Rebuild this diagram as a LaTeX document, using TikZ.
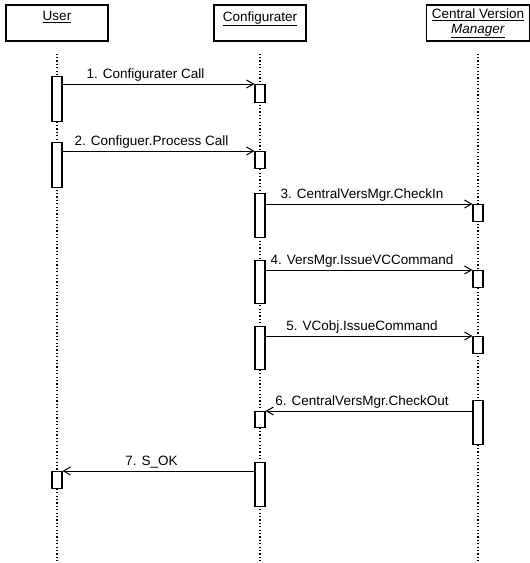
\documentclass[tikz,border=0pt]{standalone}
\usepackage{fontspec}
\setmainfont{Liberation Sans}
\usetikzlibrary{arrows.meta}

\begin{document}
\begin{tikzpicture}[x = 1pt, y = -1pt, font = \fontsize{13.5}{15}\selectfont,
    obj/.style = {shape = rectangle, draw, line width = 1.2pt, minimum height = 36pt, inner sep = 0pt},
    ttl/.style = {anchor = north, align = center, inner sep = 0pt, yshift = -7pt},
    lifeline/.style = {line width = 1.2pt, dash pattern = on 1.2pt off 2.2pt},
    act/.style = {shape = rectangle, draw, fill = white, line width = 1.1pt, minimum width = 10pt, inner sep = 0pt, anchor = north},
    msg/.style = {line width = 1pt, -{Straight Barb[length = 7pt, width = 8pt]}},
    lbl/.style = {anchor = base, yshift = 6pt, xshift = -7pt, inner sep = 0pt}]
    \useasboundingbox (0,0) rectangle (530,563);
    % objects
    \node [obj, minimum width = 102pt, label = {[ttl]north:\underline{User}}] (U) at (57, 23) {};
    \node [obj, minimum width = 92pt, label = {[ttl]north:\underline{Configurater}}] (C) at (260, 23) {};
    \node [obj, minimum width = 103pt, label = {[ttl, yshift = 3pt]north:\underline{Central Version}\\\underline{\textit{Manager}}}] (M) at (478, 23) {};
    \coordinate (E) at (0, 563);
    \draw [lifeline] ([yshift = -12pt]U.south) -- (U.south |- E);
    \draw [lifeline] ([yshift = -12pt]C.south) -- (C.south |- E);
    \draw [lifeline] ([yshift = -12pt]M.south) -- (M.south |- E);
    % activations
    \node [act, minimum height = 45pt] (U1) at (57, 76) {};
    \node [act, minimum height = 45pt] (U2) at (57, 142) {};
    \node [act, minimum height = 17pt] (U7) at (57, 471) {};
    \node [act, minimum height = 18pt] (C1) at (260, 84) {};
    \node [act, minimum height = 17pt] (C2) at (260, 151) {};
    \node [act, minimum height = 44pt] (C3) at (260, 193) {};
    \node [act, minimum height = 43pt] (C4) at (260, 260) {};
    \node [act, minimum height = 43pt] (C5) at (260, 326) {};
    \node [act, minimum height = 16pt] (C6) at (260, 411) {};
    \node [act, minimum height = 44pt] (C7) at (260, 462) {};
    \node [act, minimum height = 17pt] (M3) at (478, 204) {};
    \node [act, minimum height = 17pt] (M4) at (478, 270) {};
    \node [act, minimum height = 17pt] (M5) at (478, 336) {};
    \node [act, minimum height = 44pt] (M6) at (478, 400) {};
    % messages
    \draw [msg] (U1.east |- C1.north) -- node[lbl, xshift = -6pt]{1. Configurater Call} (C1.north west);
    \draw [msg] (U2.east |- C2.north) -- node[lbl]{2. Configuer.Process Call} (C2.north west);
    \draw [msg] (C3.east |- M3.north) -- node[lbl]{3. CentralVersMgr.CheckIn} (M3.north west);
    \draw [msg] (C4.east |- M4.north) -- node[lbl]{4. VersMgr.IssueVCCommand} (M4.north west);
    \draw [msg] (C5.east |- M5.north) -- node[lbl]{5. VCobj.IssueCommand} (M5.north west);
    \draw [msg] (M6.west |- C6.north) -- node[lbl]{6. CentralVersMgr.CheckOut} (C6.north east);
    \draw [msg] (C7.west |- U7.north) -- node[lbl]{7. S\_OK} (U7.north east);
\end{tikzpicture}
\end{document}
